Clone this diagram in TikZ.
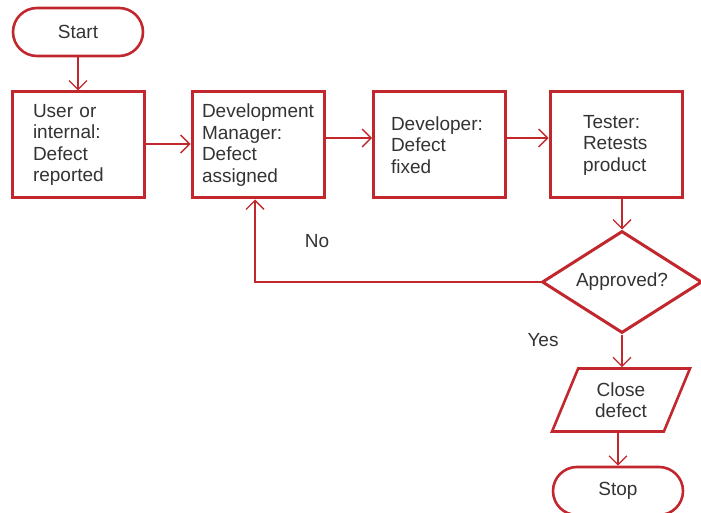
\documentclass[tikz,border=0pt]{standalone}
\usepackage{fontspec}
\setmainfont{Liberation Sans}
\usetikzlibrary{arrows.meta,shapes.geometric}
\definecolor{fred}{HTML}{C1272D}
\definecolor{ftext}{HTML}{333333}
\begin{document}
\begin{tikzpicture}[x=1pt,y=-1pt,
  every node/.style={text=ftext,font=\fontsize{19}{21.5}\selectfont},
  box/.style={draw=fred,line width=3pt,rectangle,minimum width=132pt,minimum height=106pt,align=left,inner sep=0pt},
  term/.style={draw=fred,line width=2.6pt,rectangle,rounded corners=24pt,minimum width=130pt,minimum height=48pt,inner sep=0pt},
  decision/.style={draw=fred,line width=3pt,diamond,minimum width=160pt,minimum height=102pt,inner sep=0pt,shape aspect=1.57},
  io/.style={draw=fred,line width=2.6pt,trapezium,trapezium left angle=66,trapezium right angle=114,trapezium stretches=true,minimum width=138pt,minimum height=63pt,inner sep=0pt,align=center},
  conn/.style={draw=fred,line width=1.3pt,-{Straight Barb[length=9pt,width=18pt,line width=1.3pt]}},
  lbl/.style={inner sep=0pt}]
\useasboundingbox (0,0) rectangle (701,513);
\node[term] (start) at (78,32) {Start};
\node[box,text width=90pt] (b1) at (78,145) {User or\\internal:\\Defect\\reported};
\node[box,text width=112pt] (b2) at (258,145) {\raisebox{2pt}{\parbox{112pt}{Development\\Manager:\\Defect\\assigned}}};
\node[box,text width=97pt] (b3) at (439.5,145) {Developer:\\Defect\\fixed};
\node[box,text width=66pt] (b4) at (616,145) {Tester:\\Retests\\product};
\node[decision] (dec) at (622,282) {Approved?};
\node[io] (close) at (621,400) {Close\\defect};
\node[term] (stop) at (618,491) {Stop};
\node[lbl] (no) at (317,241) {No};
\node[lbl] (yes) at (543,340) {Yes};
\draw[conn] (start) -- (start.south |- b1.north);
\draw[conn] (b1.east |- 0,144) -- (b2.west |- 0,144);
\draw[conn] (b2.east |- 0,138) -- (b3.west |- 0,138);
\draw[conn] (b3.east |- 0,138) -- (b4.west |- 0,138);
\draw[conn] (dec.north |- b4.south) -- (dec.north);
\draw[conn] (dec.west) -| (b2.south -| 255,0);
\draw[conn] (dec.south) -- (dec.south |- close.north);
\draw[conn] (stop.north |- close.south) -- (stop.north);
\end{tikzpicture}
\end{document}
